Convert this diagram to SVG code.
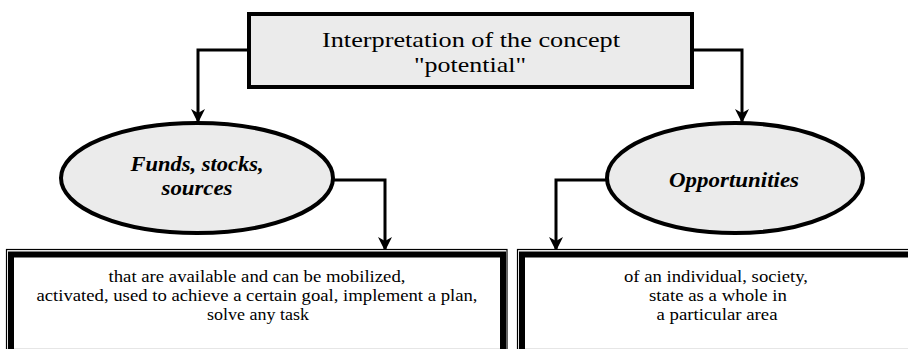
<svg xmlns="http://www.w3.org/2000/svg" width="908" height="349" viewBox="0 0 908 349">
<defs>
<style>
.t{font-family:"Liberation Serif","Times New Roman",serif;fill:#000;text-anchor:middle}
.title{font-size:22px}
.el{font-size:20px;font-weight:bold;font-style:italic}
.body{font-size:16.5px}
.conn{fill:none;stroke:#000;stroke-width:3}
.ell{fill:#ebebeb;stroke:#000;stroke-width:4}
.outer{fill:#fff;stroke:#000;stroke-width:1.2}
.inner{fill:none;stroke:#000;stroke-width:6}
</style>
<marker id="arr" viewBox="0 0 14 14" refX="13" refY="7" markerWidth="14" markerHeight="14" markerUnits="userSpaceOnUse" orient="auto">
<path d="M0,0 L14,7 L0,14 L4,7 Z" fill="#000"/>
</marker>
</defs>
<rect width="908" height="349" fill="#fff"/>
<g id="connectors">
<path class="conn" d="M247,50 H198 V122" marker-end="url(#arr)"/>
<path class="conn" d="M694,50 H742 V122" marker-end="url(#arr)"/>
<path class="conn" d="M334,180 H385 V250" marker-end="url(#arr)"/>
<path class="conn" d="M606,180 H556 V250" marker-end="url(#arr)"/>
</g>
<g id="title">
<rect x="249" y="14" width="443" height="73" fill="#ebebeb" stroke="#000" stroke-width="4"/>
<text class="t title" x="471" y="47" textLength="298" lengthAdjust="spacingAndGlyphs">Interpretation of the concept</text>
<text class="t title" x="470" y="72" textLength="112" lengthAdjust="spacingAndGlyphs">"potential"</text>
</g>
<g id="funds">
<ellipse class="ell" cx="197" cy="178" rx="136" ry="55"/>
<text class="t el" x="197" y="171" textLength="133" lengthAdjust="spacingAndGlyphs">Funds, stocks,</text>
<text class="t el" x="197" y="195" textLength="71" lengthAdjust="spacingAndGlyphs">sources</text>
</g>
<g id="opportunities">
<ellipse class="ell" cx="735" cy="178" rx="128" ry="55"/>
<text class="t el" x="734" y="187" textLength="130" lengthAdjust="spacingAndGlyphs">Opportunities</text>
</g>
<g id="funds-desc">
<rect class="outer" x="6.5" y="249.5" width="500.5" height="100"/>
<rect class="inner" x="11" y="254.5" width="492" height="100"/>
<text class="t body" x="257" y="282" textLength="297" lengthAdjust="spacingAndGlyphs">that are available and can be mobilized,</text>
<text class="t body" x="257" y="301" textLength="441" lengthAdjust="spacingAndGlyphs">activated, used to achieve a certain goal, implement a plan,</text>
<text class="t body" x="258" y="320" textLength="102" lengthAdjust="spacingAndGlyphs">solve any task</text>
</g>
<g id="opp-desc">
<rect class="outer" x="517.5" y="249.5" width="400" height="100"/>
<rect class="inner" x="522" y="254.5" width="400" height="100"/>
<text class="t body" x="716" y="282" textLength="184" lengthAdjust="spacingAndGlyphs">of an individual, society,</text>
<text class="t body" x="718" y="301" textLength="138" lengthAdjust="spacingAndGlyphs">state as a whole in</text>
<text class="t body" x="717" y="320" textLength="121" lengthAdjust="spacingAndGlyphs">a particular area</text>
</g>
</svg>
